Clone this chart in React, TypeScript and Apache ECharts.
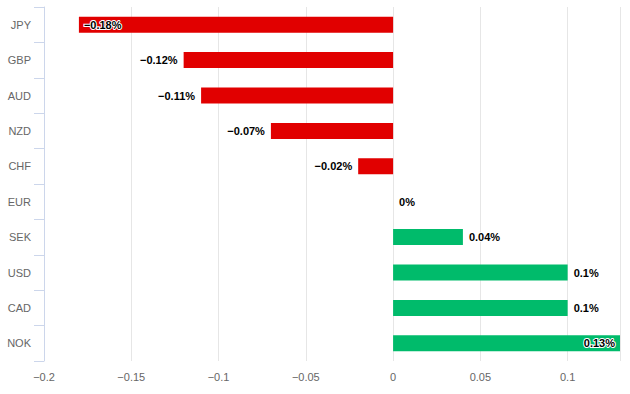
import React, { useEffect, useRef } from "react";
import * as echarts from "echarts";

const categories = ["JPY", "GBP", "AUD", "NZD", "CHF", "EUR", "SEK", "USD", "CAD", "NOK"];
const values = [-0.18, -0.12, -0.11, -0.07, -0.02, 0, 0.04, 0.1, 0.1, 0.13];

const X_MIN = -0.2;
const X_MAX = 0.13;
const X_INTERVAL = 0.05;

const RED = "#e10000";
const GREEN = "#00bb6b";
const FONT = "'Liberation Sans', Arial, sans-serif";

const fmtNum = (v: number) => {
  const s = String(Math.round(v * 1000) / 1000);
  return s.replace("-", "\u2212");
};

export default function App() {
  const ref = useRef<HTMLDivElement>(null);
  useEffect(() => {
    if (!ref.current) return;
    const chart = echarts.init(ref.current, undefined, { renderer: "svg" });
    const data = values.map((v) => {
      const nearLeft = v <= X_MIN + 0.03;
      const nearRight = v >= X_MAX - 0.005;
      let position: string = v < 0 ? "left" : "right";
      if (nearLeft) position = "insideLeft";
      if (nearRight) position = "insideRight";
      return {
        value: v,
        itemStyle: { color: v < 0 ? RED : GREEN },
        label: { position, distance: nearLeft || nearRight ? 5 : 6 },
      };
    });
    chart.setOption({
      animation: false,
      grid: { left: 44, right: 10, top: 7, bottom: 33, containLabel: false },
      xAxis: {
        type: "value",
        min: X_MIN,
        max: X_MAX,
        interval: X_INTERVAL,
        axisLine: { show: false },
        axisTick: { show: false },
        splitLine: { show: true, lineStyle: { color: "#e6e6e6", width: 1 } },
        axisLabel: {
          color: "#666666",
          fontSize: 11,
          fontFamily: FONT,
          margin: 10,
          showMaxLabel: false,
          formatter: (v: number) => fmtNum(v),
        },
      },
      yAxis: {
        type: "category",
        data: categories,
        inverse: true,
        axisLine: { show: true, onZero: false, lineStyle: { color: "#ccd6eb", width: 1 } },
        axisTick: { show: true, length: 10, lineStyle: { color: "#ccd6eb" } },
        splitLine: { show: false },
        axisLabel: { color: "#666666", fontSize: 11, fontFamily: FONT, margin: 13 },
      },
      series: [
        {
          type: "bar",
          data,
          barWidth: 16,
          label: {
            show: true,
            color: "#000000",
            fontSize: 11,
            fontWeight: "bold",
            fontFamily: FONT,
            textBorderColor: "#ffffff",
            textBorderWidth: 2,
            formatter: (p: any) => fmtNum(p.value) + "%",
          },
        },
      ],
    });
    return () => chart.dispose();
  }, []);
  return <div ref={ref} style={{ width: 630, height: 394, position: "absolute", left: 0, top: 0 }} />;
}
